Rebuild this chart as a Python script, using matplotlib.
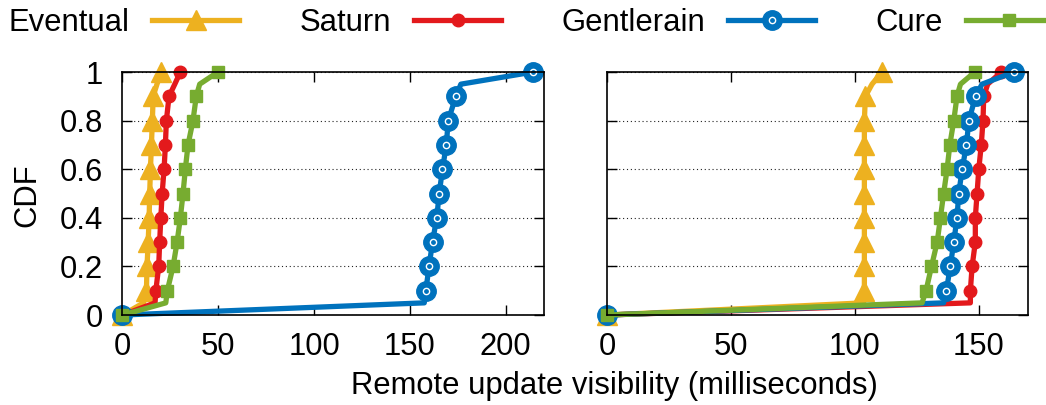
import matplotlib
matplotlib.use('Agg')
from matplotlib import pyplot as plt
from matplotlib.legend_handler import HandlerTuple

plt.rcParams['font.family'] = ['Liberation Sans', 'DejaVu Sans']
plt.rcParams['font.size'] = 22.3

# CDF levels shared by every series
cdf = [0, 0.05, 0.1, 0.2, 0.3, 0.4, 0.5, 0.6, 0.7, 0.8, 0.9, 0.95, 1.0]

# left panel, visibility latency in ms
eventual_l = [0, 11, 12.5, 12.8, 13.4, 13.9, 14.2, 14.6, 15.1, 15.6, 16.0, 18.0, 20.3]
saturn_l = [0, 17.0, 17.4, 18.9, 19.4, 20.0, 20.7, 21.7, 22.4, 22.9, 24.3, 27.3, 30.2]
gentlerain_l = [0, 157.5, 158.3, 160.0, 161.8, 164.0, 165.3, 167.0, 169.0, 170.0, 174.0, 176.6, 214.4]
cure_l = [0, 22.6, 23.4, 26.4, 28.5, 30.2, 31.6, 32.8, 34.2, 36.8, 38.5, 40.3, 49.8]

# right panel
eventual_r = [0, 103.5, 103.8, 103.8, 103.8, 103.8, 103.8, 103.8, 103.8, 103.8, 104.2, 106.9, 110.9]
saturn_r = [0, 146.6, 146.6, 147.3, 148.6, 148.6, 149.3, 150.0, 151.0, 151.7, 152.0, 153.6, 159.1]
gentlerain_r = [0, 135.8, 136.9, 138.5, 139.9, 141.2, 141.9, 143.3, 145.0, 146.0, 148.7, 151.3, 164.2]
cure_r = [0, 127.1, 128.7, 130.9, 133.2, 134.5, 135.8, 137.2, 138.3, 139.9, 141.2, 142.6, 148.4]

labels = ['Eventual', 'Saturn', 'Gentlerain', 'Cure']
colors = ['#EDB120', '#E3191C', '#0072BD', '#77AC30']
marks = [0, 2, 3, 4, 5, 6, 7, 8, 9, 10, 12]

fig = plt.figure(figsize=(10.46, 4.05), dpi=100)
ax1 = fig.add_axes([0.1171, 0.2222, 0.4030, 0.6])
ax2 = fig.add_axes([0.5806, 0.2222, 0.4025, 0.6])


def draw(ax, series):
    handles = []
    for data, lab, c in zip(series, labels, colors):
        kw = dict(color=c, lw=3.8, markevery=marks, clip_on=False, label=lab)
        if lab == 'Eventual':
            h, = ax.plot(data, cdf, marker='^', ms=15, **kw)
        elif lab == 'Saturn':
            h, = ax.plot(data, cdf, marker='o', ms=9, **kw)
        elif lab == 'Gentlerain':
            h, = ax.plot(data, cdf, marker='o', ms=14, **kw)
            ring, = ax.plot([data[i] for i in marks], [cdf[i] for i in marks],
                            ls='none', marker='o', ms=4.5, mfc='none',
                            mec='white', mew=1, clip_on=False)
            h = (h, ring)
        else:
            h, = ax.plot(data, cdf, marker='s', ms=8.5, **kw)
        handles.append(h)
    ax.set_ylim(0, 1)
    ax.set_yticks([0, 0.2, 0.4, 0.6, 0.8, 1])
    ax.set_yticklabels(['0', '0.2', '0.4', '0.6', '0.8', '1'])
    ax.yaxis.grid(True, linestyle=(0, (1, 2.5)), color='#222222', lw=0.8)
    ax.tick_params(direction='in', top=True, right=True, length=7, width=1,
                   pad=14)
    ax.tick_params(axis='x', pad=12)
    for s in ax.spines.values():
        s.set_linewidth(1.2)
    return handles


handles = draw(ax1, [eventual_l, saturn_l, gentlerain_l, cure_l])
draw(ax2, [eventual_r, saturn_r, gentlerain_r, cure_r])

ax1.set_xlim(0, 220)
ax1.set_xticks([0, 50, 100, 150, 200])
ax2.set_xlim(0, 170)
ax2.set_xticks([0, 50, 100, 150])
ax2.tick_params(labelleft=False)

fig.text(0.026, 0.519, 'CDF', rotation=90, ha='center', va='center')
fig.text(0.587, 0.047, 'Remote update visibility (milliseconds)',
         ha='center', va='center')

fig.legend(handles, labels, loc='upper left', bbox_to_anchor=(-0.004, 1.01),
           ncol=4, frameon=False, markerfirst=False, handlelength=2.8,
           handletextpad=0.75, columnspacing=1.95, borderaxespad=0,
           handler_map={tuple: HandlerTuple(ndivide=1)})

fig.savefig('out.png', dpi=100)
